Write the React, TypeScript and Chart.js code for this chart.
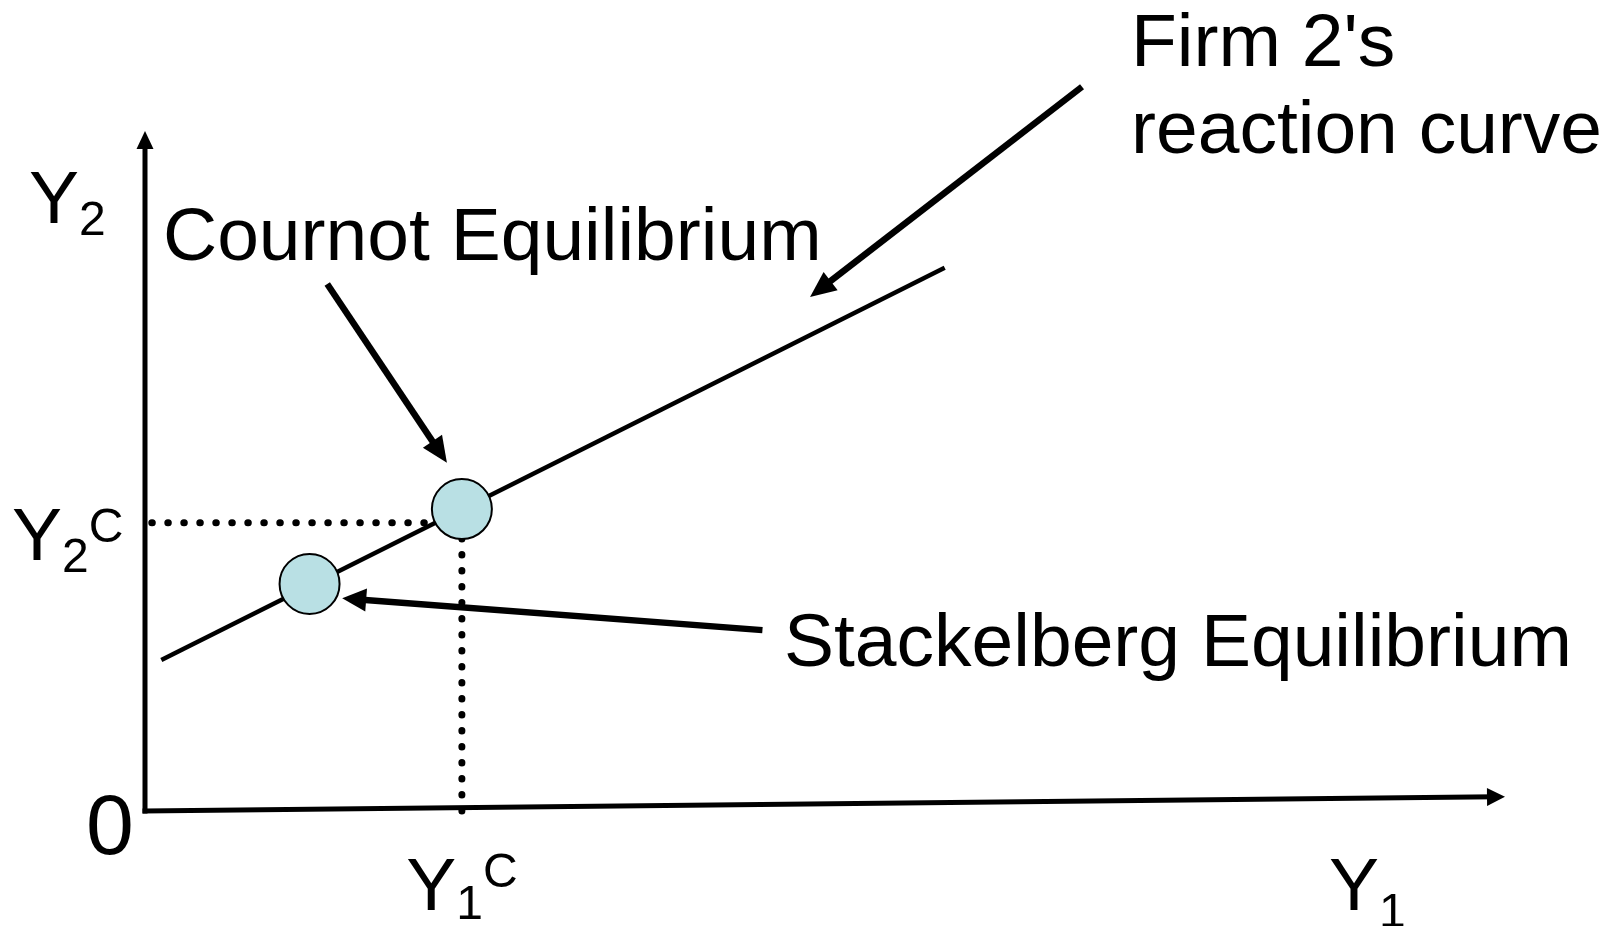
import React, { useEffect, useRef } from "react";
import { Chart, registerables } from "chart.js";

Chart.register(...registerables);

type Pt = { x: number; y: number };

// ---- data (in the chart's own units) ----
const xRange = [0, 10];
const yRange = [0, 10];

const yAxisLine: Pt[] = [{ x: 0, y: 0 }, { x: 0, y: 10 }];
const xAxisLine: Pt[] = [{ x: 0, y: 0 }, { x: 10, y: 0.21 }];

const reactionCurve: Pt[] = [{ x: 0.12, y: 2.22 }, { x: 5.88, y: 7.99 }];

const equilibriumNames = ["Cournot", "Stackelberg"];
const equilibriumPoints: Pt[] = [{ x: 2.33, y: 4.44 }, { x: 1.21, y: 3.34 }];

const y2cGuide: Pt[] = [{ x: 0.05, y: 4.24 }, { x: 2.11, y: 4.24 }];
const y1cGuide: Pt[] = [{ x: 2.33, y: 0 }, { x: 2.33, y: 4.44 }];

const cournotArrow: Pt[] = [{ x: 1.34, y: 7.75 }, { x: 2.22, y: 5.12 }];
const firm2Arrow: Pt[] = [{ x: 6.89, y: 10.65 }, { x: 4.89, y: 7.56 }];
const stackelbergArrow: Pt[] = [{ x: 4.54, y: 2.66 }, { x: 1.45, y: 3.13 }];

// ---- text ----
const annotationLabels = ["Cournot Equilibrium", "Stackelberg Equilibrium", "Firm 2's", "reaction curve"];
const y2Label = ["Y", "2"];
const y2cLabel = ["Y", "2", "C"];
const y1cLabel = ["Y", "1", "C"];
const y1Label = ["Y", "1"];
const originLabel = "0";

// ---- styles / layout ----
const FONT = "'Liberation Sans', Arial, Helvetica, sans-serif";
const BIG = 75;
const SMALL = 48;
const CIRCLE_FILL = "#b9e0e4";

type Part = { t: string; size: number; dy: number };

function drawParts(ctx: CanvasRenderingContext2D, x: number, y: number, parts: Part[], center = false) {
  let total = 0;
  for (const p of parts) {
    ctx.font = `${p.size}px ${FONT}`;
    total += ctx.measureText(p.t).width;
  }
  let cx = center ? x - total / 2 : x;
  for (const p of parts) {
    ctx.font = `${p.size}px ${FONT}`;
    ctx.fillText(p.t, cx, y + p.dy);
    cx += ctx.measureText(p.t).width;
  }
}

const arrowPlugin = {
  id: "arrowheads",
  beforeDatasetDraw(chart: any, args: any) {
    const ds = chart.data.datasets[args.index];
    if (!ds.arrowHead) return;
    const ctx: CanvasRenderingContext2D = chart.ctx;
    const pts = args.meta.data;
    const a = pts[pts.length - 2];
    const b = pts[pts.length - 1];
    const dx = b.x - a.x;
    const dy = b.y - a.y;
    const len = Math.hypot(dx, dy);
    const ux = dx / len;
    const uy = dy / len;
    const nx = -uy;
    const ny = ux;
    const cut = ds.arrowHead.len * 0.6;
    const ex = b.x - ux * cut;
    const ey = b.y - uy * cut;
    const big = 5000;
    ctx.save();
    ctx.beginPath();
    ctx.moveTo(ex + nx * big, ey + ny * big);
    ctx.lineTo(ex - nx * big, ey - ny * big);
    ctx.lineTo(ex - nx * big - ux * big, ey - ny * big - uy * big);
    ctx.lineTo(ex + nx * big - ux * big, ey + ny * big - uy * big);
    ctx.closePath();
    ctx.clip();
  },
  afterDatasetDraw(chart: any, args: any) {
    const ds = chart.data.datasets[args.index];
    if (!ds.arrowHead) return;
    const ctx: CanvasRenderingContext2D = chart.ctx;
    ctx.restore();
    const pts = args.meta.data;
    const a = pts[pts.length - 2];
    const b = pts[pts.length - 1];
    const dx = b.x - a.x;
    const dy = b.y - a.y;
    const len = Math.hypot(dx, dy);
    const ux = dx / len;
    const uy = dy / len;
    const nx = -uy;
    const ny = ux;
    const L = ds.arrowHead.len;
    const W = ds.arrowHead.half;
    ctx.save();
    ctx.fillStyle = "#000";
    ctx.beginPath();
    ctx.moveTo(b.x, b.y);
    ctx.lineTo(b.x - ux * L + nx * W, b.y - uy * L + ny * W);
    ctx.lineTo(b.x - ux * L - nx * W, b.y - uy * L - ny * W);
    ctx.closePath();
    ctx.fill();
    ctx.restore();
  },
};

const textPlugin = {
  id: "diagramText",
  afterDraw(chart: any) {
    const ctx: CanvasRenderingContext2D = chart.ctx;
    const xs = chart.scales.x;
    ctx.save();
    ctx.fillStyle = "#000";
    ctx.textBaseline = "alphabetic";
    ctx.textAlign = "left";
    ctx.font = `${BIG}px ${FONT}`;
    ctx.fillText(annotationLabels[0], 163, 260);
    ctx.fillText(annotationLabels[1], 784, 666);
    ctx.fillText(annotationLabels[2], 1131, 66);
    ctx.fillText(annotationLabels[3], 1131, 153);

    drawParts(ctx, 29, 223, [
      { t: y2Label[0], size: BIG, dy: 0 },
      { t: y2Label[1], size: SMALL, dy: 12 },
    ]);
    drawParts(ctx, 12, 560, [
      { t: y2cLabel[0], size: BIG, dy: 0 },
      { t: y2cLabel[1], size: SMALL, dy: 12 },
      { t: y2cLabel[2], size: SMALL, dy: -18 },
    ]);
    drawParts(
      ctx,
      xs.getPixelForValue(equilibriumPoints[0].x),
      910,
      [
        { t: y1cLabel[0], size: BIG, dy: 0 },
        { t: y1cLabel[1], size: SMALL, dy: 9 },
        { t: y1cLabel[2], size: SMALL, dy: -23 },
      ],
      true
    );
    drawParts(ctx, 1329, 910, [
      { t: y1Label[0], size: BIG, dy: 0 },
      { t: y1Label[1], size: SMALL, dy: 17 },
    ]);
    drawParts(ctx, 86, 854, [{ t: originLabel, size: 86, dy: 0 }]);
    ctx.restore();
  },
};

export default function App() {
  const ref = useRef<HTMLCanvasElement | null>(null);

  useEffect(() => {
    if (!ref.current) return;
    const lineDs = (data: Pt[], width: number, extra: any = {}) => ({
      type: "scatter",
      data,
      showLine: true,
      borderColor: "#000",
      backgroundColor: "#000",
      borderWidth: width,
      pointRadius: 0,
      pointHoverRadius: 0,
      tension: 0,
      clip: false,
      ...extra,
    });

    const chart = new Chart(ref.current, {
      type: "scatter",
      data: {
        datasets: [
          {
            label: equilibriumNames.join(" / "),
            data: equilibriumPoints,
            showLine: false,
            pointRadius: 30,
            pointHoverRadius: 30,
            pointBackgroundColor: CIRCLE_FILL,
            pointBorderColor: "#000",
            pointBorderWidth: 2,
            pointHoverBorderWidth: 2,
            clip: false,
          } as any,
          lineDs(reactionCurve, 4.5),
          lineDs(cournotArrow, 6.5, { arrowHead: { len: 26, half: 11.5 } }),
          lineDs(firm2Arrow, 6.5, { arrowHead: { len: 26, half: 11.5 } }),
          lineDs(stackelbergArrow, 6.5, { arrowHead: { len: 24, half: 11.5 } }),
          lineDs(y2cGuide, 7, { borderDash: [0.5, 15.5], borderCapStyle: "round" }),
          lineDs(y1cGuide, 7, { borderDash: [0.5, 15.5], borderCapStyle: "round" }),
          lineDs(yAxisLine, 5, { borderCapStyle: "square", arrowHead: { len: 18, half: 8.5 } }),
          lineDs(xAxisLine, 5, { borderCapStyle: "square", arrowHead: { len: 18, half: 9 } }),
        ] as any,
      },
      options: {
        animation: false,
        responsive: false,
        events: [],
        layout: { padding: { left: 145, right: 109, top: 131, bottom: 115 }, autoPadding: false },
        plugins: {
          legend: { display: false },
          tooltip: { enabled: false },
          title: { display: false },
        },
        scales: {
          x: { type: "linear", min: xRange[0], max: xRange[1], display: false },
          y: { type: "linear", min: yRange[0], max: yRange[1], display: false },
        },
      } as any,
      plugins: [arrowPlugin, textPlugin] as any,
    });
    return () => chart.destroy();
  }, []);

  return (
    <div style={{ position: "absolute", left: 0, top: 0, width: 1614, height: 926, background: "#fff" }}>
      <canvas ref={ref} width={1614} height={926} style={{ display: "block" }} />
    </div>
  );
}
